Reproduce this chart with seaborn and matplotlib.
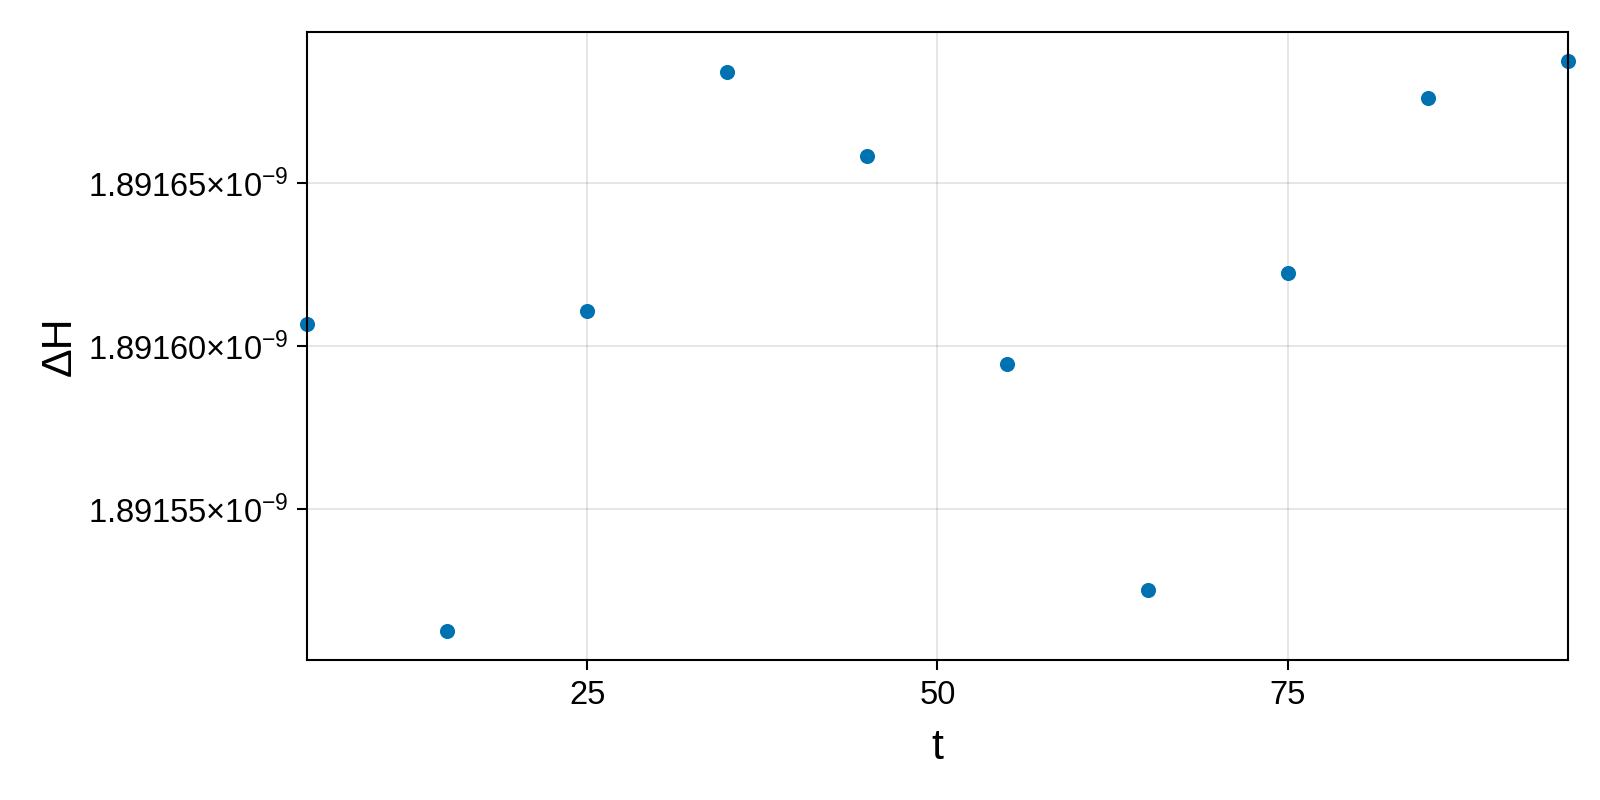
import numpy as np
import pandas as pd
import matplotlib
matplotlib.use("Agg")
import matplotlib.pyplot as plt
import seaborn as sns
from matplotlib.ticker import FixedLocator, FuncFormatter

# Data
t = [5, 15, 25, 35, 45, 55, 65, 75, 85, 95]
dH = [1.8916066e-9, 1.8915125e-9, 1.8916106e-9, 1.8916841e-9, 1.8916581e-9,
      1.8915944e-9, 1.8915253e-9, 1.8916225e-9, 1.8916759e-9, 1.8916875e-9]
x_ticks = [25, 50, 75]
y_ticks = [1.89155e-9, 1.89160e-9, 1.89165e-9]

df = pd.DataFrame({"t": t, "dH": dH})

sns.set_theme(style="white")
plt.rcParams['font.family'] = ['Liberation Sans', 'DejaVu Sans']
plt.rcParams['mathtext.fontset'] = 'custom'
plt.rcParams['mathtext.rm'] = 'Liberation Sans'

fig = plt.figure(figsize=(16, 8), dpi=100)
ax = fig.add_axes([0.1919, 0.175, 0.788, 0.785])

sns.scatterplot(data=df, x="t", y="dH", ax=ax, color="#0072B2", s=118,
                linewidth=0, zorder=3, clip_on=False)

# limits: x exactly spans data, y with 5% margins
ax.set_xlim(min(t), max(t))
span = max(dH) - min(dH)
ax.set_ylim(min(dH) - 0.05 * span, max(dH) + 0.05 * span)

ax.xaxis.set_major_locator(FixedLocator(x_ticks))
ax.yaxis.set_major_locator(FixedLocator(y_ticks))
ax.yaxis.set_major_formatter(FuncFormatter(
    lambda v, pos: r"$\mathregular{%.5f{\times}10^{-9}}$" % (v * 1e9)))

ax.grid(True, color="black", alpha=0.13, linewidth=1.1)
ax.set_axisbelow(True)
for sp in ax.spines.values():
    sp.set_color("black")
    sp.set_linewidth(1.5)
    sp.set_zorder(4)

ax.tick_params(axis="both", which="major", direction="out", length=7.5,
               width=1.5, color="black", labelsize=23.5, labelcolor="black",
               left=True, bottom=True)
ax.tick_params(axis="x", pad=7)
ax.tick_params(axis="y", pad=6)

ax.set_xlabel("t", fontsize=31, labelpad=12, color="black")
ax.set_ylabel("ΔH", fontsize=31, labelpad=6, color="black")

fig.savefig("out.png", dpi=100)
